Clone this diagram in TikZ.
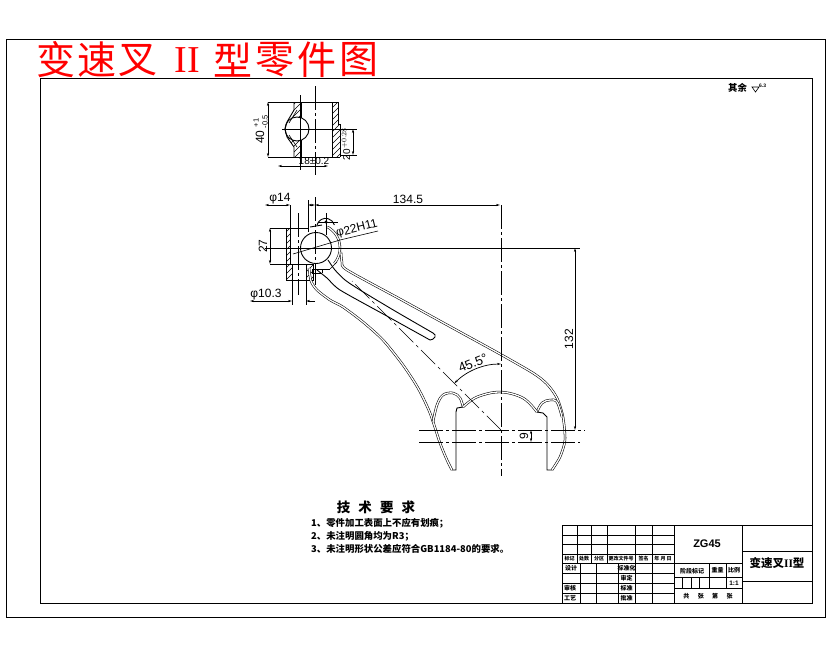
\documentclass[tikz,border=0pt]{standalone}
\usepackage{fontspec}
\setmainfont{Liberation Sans}
\newfontfamily\cjk{Noto Sans CJK SC}
\newfontfamily\romanf{Liberation Serif}
\usetikzlibrary{arrows.meta}
\tikzset{
  obj/.style={line width=.9pt,black},
  fine/.style={line width=.6pt,black},
  frameline/.style={line width=.8pt,black},
  dbl/.style={line width=.55pt,double,double distance=1.3pt,black},
  centerl/.style={line width=.7pt,dash pattern=on 24pt off 3pt on 3pt off 3pt,black},
  dimn/.style={line width=.7pt,black,{Stealth[length=4pt,width=2.2pt]}-{Stealth[length=4pt,width=2.2pt]}},
  dimone/.style={line width=.7pt,black,-{Stealth[length=4pt,width=2.2pt]}},
  dimlabel/.style={font=\fontsize{12}{12}\selectfont,inner sep=0pt},
  zhtiny/.style={font=\cjk\bfseries\fontsize{6}{6}\selectfont,inner sep=0pt},
  zhnote/.style={font=\cjk\bfseries\fontsize{9.4}{10}\selectfont,inner sep=0pt,anchor=west},
  titlechar/.style={font=\cjk\fontsize{39}{39}\selectfont,text=red,inner sep=0pt}
}
\newcommand{\hatchfill}[1]{\begin{scope}\clip #1;
  \foreach \i in {0,6,...,400}{\draw[fine] (\i,320)--(\i+240,80);}
  \end{scope}}
\begin{document}
\begin{tikzpicture}[x=1pt,y=1pt,yscale=-1]
\useasboundingbox (0,0) rectangle (830,654);
\fill[white] (0,0) rectangle (830,654);
% frames
\draw[frameline] (6,39) rectangle (825,617);
\draw[frameline] (40,78) rectangle (812,603);

% top section view
\hatchfill{(294,102)--(294,110)--(287,122)--(285,129)--(287,137)--(294,147)--(294,157)--(301,157)--(301,102)--cycle}
\fill[white] (297,129) circle[radius=12pt];
\hatchfill{(332,102)--(338,102)--(338,124)--(340,124)--(340,157)--(332,157)--cycle}
\draw[obj] (268,102)--(338,102) (268,157)--(340,157);
\draw[obj] (294,102)--(294,110)--(287,122)--(285,129)--(287,137)--(294,147)--(294,157);
\draw[fine] (297,110)--(289,123) (289,135)--(297,147);
\draw[line width=1.5pt] (301,102)--(301,118) (301,140)--(301,157);
\draw[obj] (297,129) circle[radius=12pt];
\draw[obj] (332,102)--(332,157) (338,102)--(338,124)--(340,124)--(340,157);
\draw[fine] (282,129)--(345,129) (300,95)--(300,170);
\draw[centerl] (315,86)--(315,175);
\draw[dimn] (268,102)--(268,157);
\node[dimlabel,rotate=90] (d40) at (260,137) {40};
\node[dimlabel,rotate=90,font=\fontsize{7.5}{8}\selectfont] (d40a) at (256,123) {+1};
\node[dimlabel,rotate=90,font=\fontsize{7.5}{8}\selectfont] (d40b) at (265,122) {-0.5};
\draw[fine] (340,129)--(357,129) (340,155)--(357,155);
\draw[dimn] (353,129)--(353,155);
\node[dimlabel,rotate=90,font=\fontsize{10}{10}\selectfont] (d20) at (346,144) {20$^{+0.28}$};
\draw[dimn] (278,166)--(328,166);
\node[dimlabel,font=\fontsize{10}{10}\selectfont] (d18) at (314,161) {18±0.2};

% front view: boss
\hatchfill{(286,228)--(290,228)--(290,264)--(292,264)--(292,280)--(286,280)--cycle}
\hatchfill{(306,264)--(313,264)--(313,280)--(306,280)--cycle}
\draw[obj] (270,228)--(308,228) (270,264)--(313,264);
\draw[obj] (286,228)--(286,280)--(313,280)--(313,264);
\draw[fine] (290,205)--(290,264) (308,200)--(308,232);
\draw[fine] (292,264)--(292,305) (306,264)--(306,305);
\draw[centerl] (298,213)--(298,295);

% ring
\draw[obj] (316,248) circle[radius=15.5pt];
\draw[dbl] (316,248) ++(-62:24) arc[start angle=-62,end angle=40,radius=24pt];
\draw[obj] (310,227)--(322,225);
\draw[obj] (317,225) arc[start angle=195,end angle=345,radius=9pt];
\draw[fine] (318,222)--(338,222) (326,213)--(326,235);
\fill (326,222) circle[radius=1.6pt];
\draw[fine] (312,269)--(330,269) (312,273)--(322,273) (312,269)--(312,273) (322,273)--(322,269);
\draw[fine] (330,269)--(337,262);

% fork outline
\draw[dbl] plot[smooth,tension=.45] coordinates {(341,252)(342,262)(347,270)(400,299)(460,332)(500,354)(533,373)(547,384)(557,398)(563,417)(565,440)(560,457)(552,470)};
\draw[dbl] plot[smooth,tension=.45] coordinates {(309,268)(311,281)(317,290)(330,300)(343,307)(363,322)(383,340)(403,365)(418,388)(430,413)(440,443)(447,460)(452,470)};
% ribs
\draw[dbl] plot[smooth,tension=.6] coordinates {(433,422)(437,405)(443,395)(453,393)(460,398)(463,407)};
\draw[dbl] plot[smooth,tension=.6] coordinates {(537,412)(542,403)(550,400)(557,402)(562,417)};
% inner arch
\draw[obj] (452,470)--(456,470)--(456,412)--(457,408)--(463,407);
\draw[dbl] plot[smooth,tension=.6] coordinates {(463,407)(477,397)(500,392)(523,398)(537,412)};
\draw[obj] (537,412)--(543,413)--(547,417)--(547,470)--(552,470);
% slot
\draw[obj] plot[smooth,tension=.4] coordinates {(328,260)(335,270)(345,280)(360,290)(395,311)(433,333)};
\draw[obj] (433,333) to[out=30,in=-45] (435,337) to[out=135,in=10] (430,340);
\draw[obj] plot[smooth,tension=.4] coordinates {(317,270)(327,278)(340,290)(385,315)(430,340)};

% centre lines
\draw[centerl] (315,197)--(315,285);
\draw[centerl] (501,205)--(501,476);
\draw[line width=.7pt] (265,248)--(580,248);
\draw[centerl] (419,430)--(585,430);
\draw[centerl] (419,442)--(580,442);
\draw[line width=.6pt,dash pattern=on 20pt off 4pt on 3pt off 4pt] (501,430)--(352,281);

% dimensions
\draw[dimn] (265,205)--(290,205);
\draw[dimn] (308,205)--(315,205);
\node[dimlabel] (d14) at (280,199) {φ14};
\draw[dimn] (315,205)--(500,205);
\node[dimlabel] (d134) at (408,199) {134.5};
\draw[dimn] (270,228)--(270,264);
\node[dimlabel,rotate=90] (d27) at (263,246) {27};
\draw[dimn] (250,301)--(292,301);
\draw[dimone] (315,301)--(306,301);
\node[dimlabel] (d103) at (266,295) {φ10.3};
\draw[fine] (293,254)--(340,240)--(378,231);
\node[dimlabel,rotate=14] (d22) at (357,229) {φ22H11};
\draw[dimn] (575,248)--(575,430);
\node[dimlabel,rotate=90] (d132) at (569,339) {132};
\draw[line width=.7pt,{Stealth[length=4pt,width=2.2pt]}-{Stealth[length=4pt,width=2.2pt]}] (501,430) ++(225:66) arc[start angle=225,end angle=270,radius=66pt];
\node[dimlabel,rotate=22,font=\fontsize{13}{13}\selectfont] (d455) at (473,363) {45.5°};
\draw[dimn] (531,430)--(531,442);
\node[dimlabel,rotate=90] (d9) at (524,436) {9};

% title
\node[titlechar] (t1) at (56,60) {变};
\node[titlechar] (t2) at (97,60) {速};
\node[titlechar] (t3) at (138,60) {叉};
\node[titlechar,font=\romanf\fontsize{38}{38}\selectfont] (t4) at (187,60) {II};
\node[titlechar] (t5) at (233,60) {型};
\node[titlechar] (t6) at (275,60) {零};
\node[titlechar] (t7) at (317,60) {件};
\node[titlechar] (t8) at (359,60) {图};

% roughness
\node[zhnote] (rest) at (728,88) {其余};
\draw[fine] (752,87)--(759,87)--(755.5,92)--cycle;
\node[font=\bfseries\fontsize{5}{5}\selectfont,inner sep=0pt,anchor=west] (rval) at (759,85.5) {6.3};

% notes
\node[font=\cjk\bfseries\fontsize{13.5}{14}\selectfont,inner sep=0pt] (reqt) at (376,507) {技\hspace{.6em}术\hspace{.6em}要\hspace{.6em}求};
\node[zhnote] (n1) at (311,523) {1、零件加工表面上不应有划痕；};
\node[zhnote] (n2) at (311,536) {2、未注明圆角均为R3；};
\node[zhnote] (n3) at (311,549) {3、未注明形状公差应符合GB1184-80的要求。};

% title block
\draw[frameline] (562,525) rectangle (812,603);
\draw[frameline] (562,535)--(674,535) (562,544)--(674,544) (562,554)--(674,554) (562,563.5)--(742,563.5);
\draw[frameline] (562,573)--(674,573) (562,583)--(674,583) (562,593)--(674,593);
\foreach \x in {577,591,607,635,652}{\draw[frameline] (\x,525)--(\x,563.5);}
\foreach \x in {580,596,618,635,652}{\draw[frameline] (\x,563.5)--(\x,603);}
\draw[frameline] (674,525)--(674,603) (742,525)--(742,603);
\draw[frameline] (742,551)--(812,551) (742,581)--(812,581);
\draw[frameline] (674,577)--(742,577) (674,588)--(742,588);
\draw[frameline] (709,563.5)--(709,588) (726,563.5)--(726,588);
\foreach \x in {682,691,699}{\draw[frameline] (\x,577)--(\x,588);}
\node[zhtiny,font=\cjk\bfseries\fontsize{5}{5}\selectfont] (a1) at (569.5,559) {标记};
\node[zhtiny,font=\cjk\bfseries\fontsize{5}{5}\selectfont] (a2) at (584,559) {处数};
\node[zhtiny,font=\cjk\bfseries\fontsize{5}{5}\selectfont] (a3) at (599,559) {分区};
\node[zhtiny,font=\cjk\bfseries\fontsize{5}{5}\selectfont] (a4) at (621,559) {更改文件号};
\node[zhtiny,font=\cjk\bfseries\fontsize{5}{5}\selectfont] (a5) at (643.5,559) {签名};
\node[zhtiny,font=\cjk\bfseries\fontsize{5}{5}\selectfont] (a6) at (663,559) {年 月 日};
\node[zhtiny] (b1) at (571,568.5) {设计};
\node[zhtiny] (b2) at (570,588) {审核};
\node[zhtiny] (b3) at (570,598) {工艺};
\node[zhtiny] (b4) at (626.5,568.5) {标准化};
\node[zhtiny] (b5) at (626.5,578) {审定};
\node[zhtiny] (b6) at (626.5,588) {标准};
\node[zhtiny] (b7) at (626.5,598) {批准};
\node[font=\bfseries\fontsize{11}{11}\selectfont,inner sep=0pt] (mat) at (707,544) {ZG45};
\node[zhtiny] (c1) at (692,571) {阶段标记};
\node[zhtiny] (c2) at (717.5,570.5) {重量};
\node[zhtiny] (c3) at (734,570.5) {比例};
\node[font=\bfseries\fontsize{6.5}{7}\selectfont,inner sep=0pt] (scale) at (734,583) {1:1};
\node[zhtiny] (c4) at (708,596) {共\hspace{1.4em}张\hspace{1.4em}第\hspace{1.4em}张};
\node[font=\cjk\bfseries\fontsize{11.5}{12}\selectfont,inner sep=0pt] (name) at (777,563) {变速叉{\romanf II}型};
\end{tikzpicture}
\end{document}
